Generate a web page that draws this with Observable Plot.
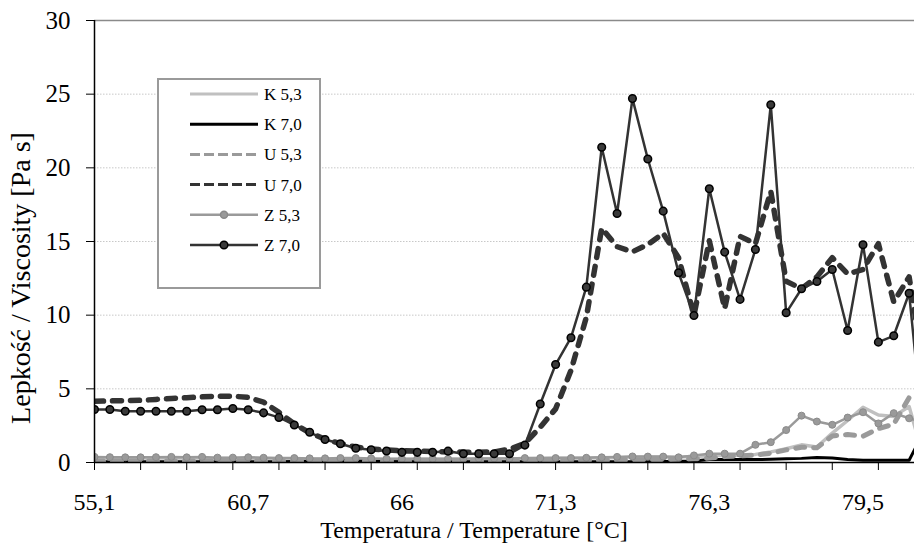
<!DOCTYPE html>
<html>
<head>
<meta charset="utf-8">
<script src="https://cdn.jsdelivr.net/npm/d3@7"></script>
<script src="https://cdn.jsdelivr.net/npm/@observablehq/plot@0.6"></script>
<style>
  html, body { margin: 0; padding: 0; background: #fff; }
  #chart { width: 914px; height: 547px; }
</style>
</head>
<body>
<div id="chart"></div>
<script>
// Category index labels (temperature, °C) shown on the axis
const xLabelIndex = [0, 10, 20, 30, 40, 50];
const xLabels = ["55,1", "60,7", "66", "71,3", "76,3", "79,5"];
const yTicks = [0, 5, 10, 15, 20, 25, 30];

const seriesNames = ["K 5,3", "K 7,0", "U 5,3", "U 7,0", "Z 5,3", "Z 7,0"];

const K53 = [0.32,0.3,0.32,0.3,0.3,0.32,0.3,0.3,0.28,0.28,0.3,0.28,0.25,0.25,0.22,0.22,0.22,0.2,0.2,0.2,
             0.2,0.22,0.22,0.22,0.22,0.25,0.25,0.25,0.25,0.28,0.3,0.3,0.3,0.32,0.32,0.35,0.35,0.35,0.38,0.4,
             0.45,0.5,0.5,0.55,0.72,0.93,1.2,1.05,2.0,2.85,3.75,3.22,3.13,3.8,0.1];
const K70 = [0.05,0.05,0.05,0.05,0.05,0.05,0.05,0.05,0.05,0.05,0.05,0.05,0.05,0.06,0.08,0.1,0.12,0.1,0.08,0.06,
             0.05,0.05,0.05,0.05,0.05,0.05,0.05,0.05,0.05,0.05,0.05,0.05,0.05,0.05,0.05,0.05,0.05,0.06,0.08,0.1,
             0.2,0.2,0.2,0.2,0.22,0.25,0.28,0.34,0.3,0.2,0.15,0.15,0.15,0.15,2.2];
const U53 = [0.1,0.1,0.1,0.1,0.1,0.1,0.1,0.1,0.1,0.1,0.1,0.1,0.1,0.1,0.1,0.1,0.1,0.1,0.1,0.1,
             0.1,0.1,0.1,0.1,0.1,0.1,0.1,0.1,0.12,0.12,0.12,0.14,0.15,0.15,0.16,0.18,0.2,0.2,0.22,0.25,
             0.3,0.4,0.45,0.5,0.63,0.86,1.04,1.0,1.8,1.9,1.78,2.3,2.6,4.4,5.0];
const U70 = [4.15,4.18,4.2,4.22,4.28,4.35,4.4,4.46,4.5,4.5,4.42,4.1,3.4,2.62,2.02,1.58,1.28,1.05,0.92,0.85,
             0.8,0.78,0.75,0.72,0.7,0.7,0.72,0.9,1.3,2.4,3.64,6.25,9.86,15.9,14.65,14.3,14.8,15.55,13.9,10.0,
             15.05,10.45,15.35,14.85,18.4,12.3,11.8,12.6,13.9,12.8,13.1,14.85,10.9,12.6,6.0];
const Z53 = [0.38,0.36,0.35,0.35,0.36,0.38,0.35,0.38,0.33,0.33,0.35,0.32,0.3,0.3,0.28,0.28,0.3,0.3,0.28,0.25,
             0.25,0.25,0.25,0.25,0.25,0.28,0.28,0.28,0.3,0.3,0.3,0.3,0.32,0.35,0.38,0.41,0.4,0.4,0.35,0.48,
             0.6,0.6,0.6,1.2,1.38,2.2,3.18,2.78,2.56,3.05,3.41,2.65,3.35,3.0,2.7];
const Z70 = [3.6,3.6,3.48,3.48,3.48,3.48,3.48,3.58,3.58,3.67,3.58,3.37,3.06,2.55,2.05,1.56,1.27,0.97,0.87,0.78,
             0.69,0.69,0.69,0.77,0.59,0.59,0.59,0.59,1.18,3.97,6.65,8.47,11.9,21.4,16.9,24.7,20.6,17.06,12.88,9.98,
             18.58,14.28,11.07,14.46,24.28,10.16,11.79,12.29,13.1,8.96,14.78,8.17,8.6,11.49,1.0];

const rows = arr => arr.map((v, i) => ({i, v}));
const font = "Liberation Serif";

const styles = {
  "K 5,3": {stroke: "#c0c0c0", strokeWidth: 3.5},
  "K 7,0": {stroke: "#000000", strokeWidth: 3},
  "U 5,3": {stroke: "#9a9a9a", strokeWidth: 5, strokeDasharray: "9,9", strokeLinecap: "round"},
  "U 7,0": {stroke: "#333333", strokeWidth: 5.5, strokeDasharray: "9,9", strokeLinecap: "round"},
  "Z 5,3": {stroke: "#9a9a9a", strokeWidth: 2.5},
  "Z 7,0": {stroke: "#333333", strokeWidth: 2.5}
};

const chart = Plot.plot({
  width: 914,
  height: 547,
  marginLeft: 94,
  marginRight: 0,
  marginTop: 20,
  marginBottom: 85,
  style: {fontFamily: font, fontSize: "24px", color: "#000", background: "#fff", overflow: "visible"},
  x: {domain: [0, 53.35]},
  y: {domain: [0, 30]},
  marks: [
    Plot.ruleY([5, 10, 15, 20, 25], {stroke: "#c8c8c8", strokeWidth: 1, strokeDasharray: "1.5,1.5"}),
    Plot.ruleY([30], {stroke: "#8a8a8a", strokeWidth: 1.5}),
    Plot.line(rows(K53), {x: "i", y: "v", ...styles["K 5,3"], clip: true}),
    Plot.line(rows(K70), {x: "i", y: "v", ...styles["K 7,0"], clip: true}),
    Plot.line(rows(U53), {x: "i", y: "v", ...styles["U 5,3"], clip: true}),
    Plot.line(rows(U70), {x: "i", y: "v", ...styles["U 7,0"], clip: true}),
    Plot.line(rows(Z53), {x: "i", y: "v", ...styles["Z 5,3"], clip: true}),
    Plot.dot(rows(Z53), {x: "i", y: "v", r: 3.5, fill: "#9a9a9a", stroke: "#8a8a8a", strokeWidth: 1, clip: true}),
    Plot.line(rows(Z70), {x: "i", y: "v", ...styles["Z 7,0"], clip: true}),
    Plot.dot(rows(Z70), {x: "i", y: "v", r: 3.8, fill: "#3a3a3a", stroke: "#000", strokeWidth: 1.5, clip: true}),
    Plot.ruleY([0], {stroke: "#000", strokeWidth: 1.5}),
    Plot.ruleX([0], {stroke: "#000", strokeWidth: 1.5}),
    // tick marks only
    Plot.axisY({ticks: yTicks, tickSize: 8, tickFormat: () => "", label: null}),
    Plot.axisX({ticks: d3.range(0, 54, 3), tickSize: 8, tickFormat: () => "", label: null}),
    // tick labels
    Plot.text(yTicks, {x: () => 0, y: d => d, text: d => String(d), dx: -24, textAnchor: "end",
                       fontSize: 25, fontFamily: font, fill: "#000"}),
    Plot.text(xLabelIndex, {x: d => d, y: () => 0, text: (d, i) => xLabels[i], dy: 40,
                            fontSize: 24, fontFamily: font, fill: "#000"})
  ]
});

document.getElementById("chart").appendChild(chart);

const svg = d3.select(chart);

// Axis titles
svg.append("text")
  .attr("x", 474).attr("y", 538)
  .attr("text-anchor", "middle")
  .attr("font-size", 24).attr("fill", "#000")
  .text("Temperatura / Temperature [°C]");

svg.append("text")
  .attr("transform", "translate(30,278) rotate(-90)")
  .attr("text-anchor", "middle")
  .attr("font-size", 28).attr("fill", "#000")
  .text("Lepkość / Viscosity [Pa s]");

// Legend
const lg = svg.append("g");
lg.append("rect").attr("x", 158).attr("y", 79).attr("width", 162).attr("height", 209)
  .attr("fill", "#fff").attr("stroke", "#9a9a9a").attr("stroke-width", 2);
const legendStyles = {
  "K 5,3": {stroke: "#c0c0c0", w: 3},
  "K 7,0": {stroke: "#000", w: 3},
  "U 5,3": {stroke: "#9a9a9a", w: 3, dash: "10,4"},
  "U 7,0": {stroke: "#333", w: 3, dash: "10,4"},
  "Z 5,3": {stroke: "#9a9a9a", w: 2.5, dot: {r: 3.5, fill: "#9a9a9a", stroke: "#8a8a8a"}},
  "Z 7,0": {stroke: "#333", w: 2.5, dot: {r: 3.8, fill: "#3a3a3a", stroke: "#000"}}
};
seriesNames.forEach((name, k) => {
  const y = 94 + k * 30.2;
  const s = legendStyles[name];
  const ln = lg.append("line").attr("x1", 190).attr("x2", 258).attr("y1", y).attr("y2", y)
    .attr("stroke", s.stroke).attr("stroke-width", s.w);
  if (s.dash) ln.attr("stroke-dasharray", s.dash);
  if (s.dot) lg.append("circle").attr("cx", 224).attr("cy", y).attr("r", s.dot.r)
    .attr("fill", s.dot.fill).attr("stroke", s.dot.stroke).attr("stroke-width", 1.5);
  lg.append("text").attr("x", 264).attr("y", y + 6).attr("text-anchor", "start")
    .attr("font-size", 17).attr("fill", "#000").text(name);
});

// Force the serif face on every text element
svg.selectAll("text").style("font-family", "'Liberation Serif', serif").style("font-variant-numeric", "normal");
</script>
</body>
</html>
